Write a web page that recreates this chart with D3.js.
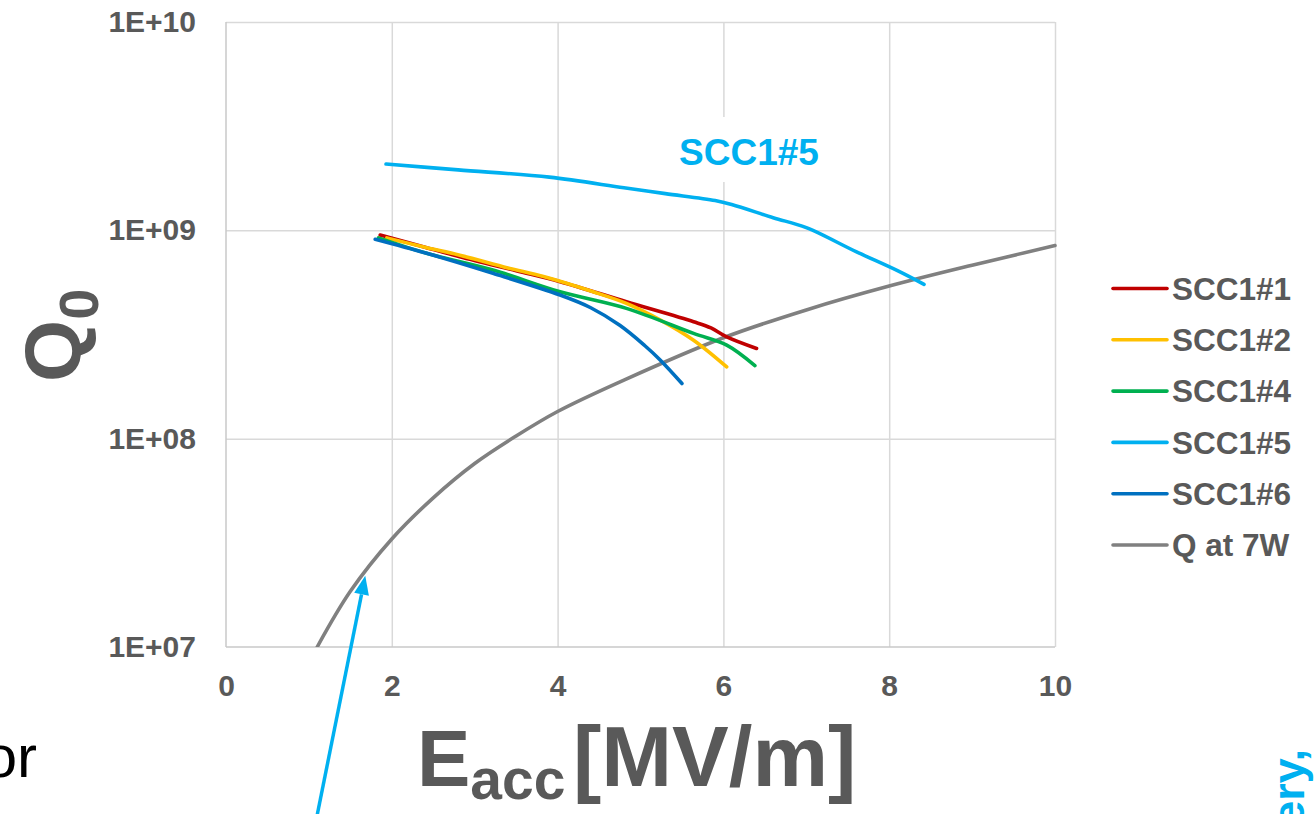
<!DOCTYPE html>
<html>
<head>
<meta charset="utf-8">
<script src="https://cdn.jsdelivr.net/npm/d3@7"></script>
<style>
  html, body { margin: 0; padding: 0; background: #fff; }
  svg { display: block; }
  text { font-family: "Liberation Sans", Arial, sans-serif; }
</style>
</head>
<body>
<svg id="chart" width="1314" height="814"></svg>
<script>
// ---------- data ----------
const xTicks = [0, 2, 4, 6, 8, 10];
const yTicks = [1e7, 1e8, 1e9, 1e10];
const yTickLabels = ["1E+07", "1E+08", "1E+09", "1E+10"];

const seriesNames = ["SCC1#1", "SCC1#2", "SCC1#4", "SCC1#5", "SCC1#6", "Q at 7W"];
const seriesColors = ["#C00000", "#FFC000", "#00B050", "#00B0F0", "#0070C0", "#808080"];

const E1 = [1.86, 2.4, 2.82, 3.5, 4.03, 4.83, 5.64, 5.85, 6.04, 6.40];
const Q1 = [9.5e8, 8.3e8, 7.47e8, 6.4e8, 5.67e8, 4.54e8, 3.64e8, 3.4e8, 3.08e8, 2.71e8];

const E2 = [1.94, 2.4, 2.82, 3.4, 3.83, 4.43, 4.83, 5.24, 5.64, 6.04];
const Q2 = [9.2e8, 8.3e8, 7.6e8, 6.6e8, 6.0e8, 5.07e8, 4.46e8, 3.71e8, 2.97e8, 2.21e8];

const E4 = [1.84, 2.42, 3.22, 4.03, 4.83, 5.64, 6.04, 6.38];
const Q4 = [9.2e8, 7.76e8, 6.45e8, 5.07e8, 4.22e8, 3.2e8, 2.81e8, 2.24e8];

const E5 = [1.93, 2.8, 3.9, 4.8, 5.3, 5.9, 6.1, 6.6, 7.0, 7.6, 8.1, 8.42];
const Q5 = [2.08e9, 1.95e9, 1.80e9, 1.6e9, 1.5e9, 1.39e9, 1.33e9, 1.15e9, 1.03e9, 7.9e8, 6.4e8, 5.5e8];

const E6 = [1.80, 2.42, 3.22, 4.03, 4.4, 4.75, 5.05, 5.24, 5.50];
const Q6 = [9.06e8, 7.76e8, 6.22e8, 4.89e8, 4.25e8, 3.5e8, 2.8e8, 2.38e8, 1.84e8];

const E7 = [1.1, 1.5, 2, 2.5, 3, 3.5, 4, 4.8, 6, 7, 8, 9, 10];
const Q7 = [1.0e7, 1.85e7, 3.3e7, 5.2e7, 7.6e7, 1.03e8, 1.35e8, 1.91e8, 3.05e8, 4.15e8, 5.4e8, 6.8e8, 8.45e8];

const seriesE = [E1, E2, E4, E5, E6, E7];
const seriesQ = [Q1, Q2, Q4, Q5, Q6, Q7];

// ---------- layout ----------
const svg = d3.select("#chart");
const L = 226, R = 1055, T = 22, B = 647;
const x = d3.scaleLinear().domain([0, 10]).range([L, R]);
const y = d3.scaleLog().domain([1e7, 1e10]).range([B, T]);
const axisColor = "#595959";
const FONT = '"Liberation Sans", Arial, sans-serif';

svg.append("rect").attr("width", 1314).attr("height", 814).attr("fill", "#fff");

// gridlines
svg.append("g").attr("transform", `translate(0,${B})`)
  .call(d3.axisBottom(x).tickValues(xTicks.filter(v => v > 0)).tickSize(-(B - T)).tickFormat(""))
  .call(g => g.select(".domain").remove())
  .call(g => g.selectAll("line").attr("stroke", "#D9D9D9").attr("stroke-width", 1.5));
svg.append("g").attr("transform", `translate(${L},0)`)
  .call(d3.axisLeft(y).tickValues(yTicks.filter(v => v > 1e7)).tickSize(-(R - L)).tickFormat(""))
  .call(g => g.select(".domain").remove())
  .call(g => g.selectAll("line").attr("stroke", "#D9D9D9").attr("stroke-width", 1.5));

// axis lines
svg.append("line").attr("x1", L).attr("x2", L).attr("y1", T).attr("y2", B)
  .attr("stroke", "#C8C8C8").attr("stroke-width", 1.5);
svg.append("line").attr("x1", L).attr("x2", R).attr("y1", B).attr("y2", B)
  .attr("stroke", "#C8C8C8").attr("stroke-width", 1.5);

// tick labels
svg.append("g").attr("transform", `translate(0,${B})`)
  .call(d3.axisBottom(x).tickValues(xTicks).tickSize(0).tickPadding(28).tickFormat(d3.format("d")))
  .call(g => g.select(".domain").remove())
  .call(g => g.selectAll("text").attr("fill", axisColor).attr("font-size", 30)
    .attr("font-weight", "bold").attr("font-family", FONT));
svg.append("g").attr("transform", `translate(${L},0)`)
  .call(d3.axisLeft(y).tickValues(yTicks).tickSize(0).tickPadding(30)
    .tickFormat((d, i) => yTickLabels[i]))
  .call(g => g.select(".domain").remove())
  .call(g => g.selectAll("text").attr("fill", axisColor).attr("font-size", 30)
    .attr("font-weight", "bold").attr("font-family", FONT));

// clip
svg.append("clipPath").attr("id", "plotclip").append("rect")
  .attr("x", L).attr("y", T - 2).attr("width", R - L + 2).attr("height", B - T + 2);

// SCC1#5 annotation box (drawn before lines)
svg.append("rect").attr("x", 668).attr("y", 117).attr("width", 162).attr("height", 65).attr("fill", "#fff");
svg.append("text").attr("x", 749).attr("y", 165).attr("text-anchor", "middle")
  .attr("font-size", 37).attr("font-weight", "bold").attr("fill", "#00B0F0").text("SCC1#5");

// lines
const line = d3.line().x(d => x(d[0])).y(d => y(d[1])).curve(d3.curveCatmullRom.alpha(0.5));
const plot = svg.append("g").attr("clip-path", "url(#plotclip)");
const drawOrder = [5, 3, 0, 1, 2, 4];
drawOrder.forEach(i => {
  const pts = seriesE[i].map((e, k) => [e, seriesQ[i][k]]);
  plot.append("path").attr("d", line(pts)).attr("fill", "none")
    .attr("stroke", seriesColors[i]).attr("stroke-width", 3.6)
    .attr("stroke-linecap", "round").attr("stroke-linejoin", "round");
});

// legend
const legY0 = 288.5, legDy = 51.3;
seriesNames.forEach((name, i) => {
  const yy = legY0 + i * legDy;
  svg.append("line").attr("x1", 1113).attr("x2", 1167).attr("y1", yy).attr("y2", yy)
    .attr("stroke", seriesColors[i]).attr("stroke-width", 3.6).attr("stroke-linecap", "round");
  svg.append("text").attr("x", 1172).attr("y", yy).attr("dy", "0.36em")
    .attr("font-size", 31.5).attr("font-weight", "bold").attr("fill", axisColor).text(name);
});

// axis titles
const xt = svg.append("text").attr("x", 417).attr("y", 786).attr("font-weight", "bold")
  .attr("fill", axisColor).attr("font-size", 80);
xt.append("tspan").text("E");
xt.append("tspan").attr("font-size", 57).attr("dy", 13).text("acc");
xt.append("tspan").attr("dy", -13).attr("font-size", 85).attr("x", 573).text("[MV/m]");

const yt = svg.append("text").attr("transform", "translate(80,382) rotate(-90)")
  .attr("font-weight", "bold").attr("fill", axisColor).attr("font-size", 80);
yt.append("tspan").text("Q");
yt.append("tspan").attr("font-size", 56).attr("dy", 18).text("0");

// arrow pointing at the 7W curve
const tip = [x(1.68), y(2.2e7)];
const tail = [317, 816];
const dx = tip[0] - tail[0], dyv = tip[1] - tail[1];
const len = Math.hypot(dx, dyv), ux = dx / len, uy = dyv / len;
const hl = 19, hw = 7.5;
const bx = tip[0] - ux * hl, by = tip[1] - uy * hl;
svg.append("line").attr("x1", tail[0]).attr("y1", tail[1]).attr("x2", bx).attr("y2", by)
  .attr("stroke", "#00B0F0").attr("stroke-width", 3.5);
svg.append("path").attr("d", `M${tip[0]},${tip[1]}L${bx - uy * hw},${by + ux * hw}L${bx + uy * hw},${by - ux * hw}Z`)
  .attr("fill", "#00B0F0");

// slide fragments around the chart
svg.append("text").attr("x", 37).attr("y", 777).attr("text-anchor", "end")
  .attr("font-size", 60).attr("fill", "#000").text("or");
svg.append("text").attr("transform", "translate(1304,749) rotate(-90)").attr("text-anchor", "end")
  .attr("font-size", 45).attr("font-weight", "bold").attr("fill", "#00B0F0").text("ery,");
</script>
</body>
</html>
